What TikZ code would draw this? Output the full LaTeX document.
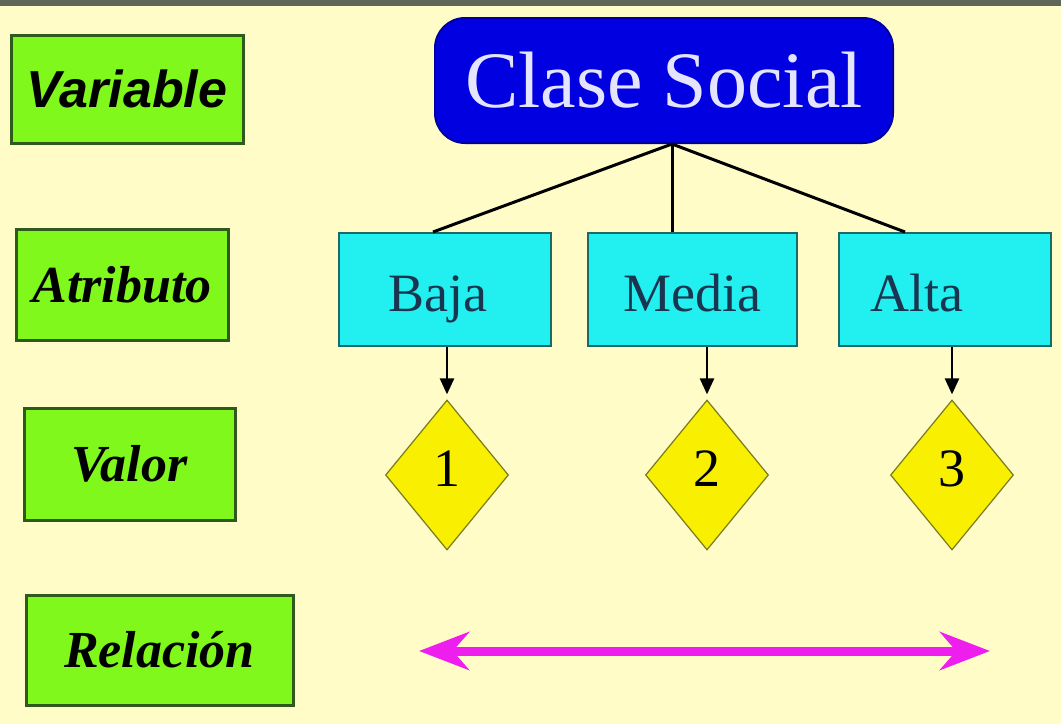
\documentclass[tikz,border=0pt]{standalone}
\usepackage{fontspec}
\setmainfont{Liberation Serif}
\newfontfamily\arialfont{Liberation Sans}
\usetikzlibrary{shapes.geometric,arrows.meta}

\definecolor{fondo}{HTML}{FFFCC8}
\definecolor{franja}{HTML}{5E6656}
\definecolor{verdeC}{HTML}{80F81C}
\definecolor{verdeB}{HTML}{2E5A1E}
\definecolor{azulC}{HTML}{0000E0}
\definecolor{azulB}{HTML}{0000A0}
\definecolor{azulT}{HTML}{E4E4FF}
\definecolor{cianC}{HTML}{22F0F0}
\definecolor{cianB}{HTML}{1A6A6A}
\definecolor{cianT}{HTML}{1A3550}
\definecolor{amarC}{HTML}{F8F000}
\definecolor{amarB}{HTML}{7A7A20}
\definecolor{magen}{HTML}{EE1EEE}

\tikzset{
  etiq/.style={draw=verdeB, fill=verdeC, line width=3pt, inner sep=0pt,
    text=black, font=\fontsize{52}{60}\selectfont\bfseries\itshape},
  clase/.style={draw=azulB, fill=azulC, line width=2pt, rounded corners=30pt,
    text=azulT, minimum width=458pt, minimum height=125pt,
    font=\fontsize{80}{90}\selectfont},
  atrib/.style={draw=cianB, fill=cianC, line width=2pt, text=cianT,
    minimum height=113pt, text height=50pt, text depth=7pt,
    font=\fontsize{54}{60}\selectfont},
  valor/.style={diamond, draw=amarB, fill=amarC, line width=1.2pt, inner sep=0pt,
    minimum width=123pt, minimum height=150pt, text=black,
    font=\fontsize{54}{60}\selectfont},
  rama/.style={line width=3pt},
  baja/.style={line width=2.5pt, -{Triangle[length=16pt,width=14pt]}, shorten >=5pt},
  relac/.style={magen, line width=9pt, {Stealth[length=50pt,width=38pt]}-{Stealth[length=50pt,width=38pt]}}
}

\begin{document}
\begin{tikzpicture}[x=1pt,y=-1pt]
  \fill[fondo] (0,0) rectangle (1061,724);
  \fill[franja] (0,0) rectangle (1061,6);

  % columna izquierda
  \node (var) at (127,89)    [etiq, minimum width=232pt, minimum height=108pt] {\arialfont Variable};
  \node (atr) at (122,285)   [etiq, minimum width=212pt, minimum height=111pt] {Atributo};
  \node (val) at (129.5,464) [etiq, minimum width=211pt, minimum height=112pt] {Valor};
  \node (rel) at (159.5,650) [etiq, minimum width=267pt, minimum height=110pt] {Relación};

  % arbol
  \node (cs) at (664,80.5) [clase] {Clase Social};
  \node (baja)  at (445,289.5)   [atrib, minimum width=212pt] {Baja\hspace*{14pt}};
  \node (media) at (692.5,289.5) [atrib, minimum width=209pt] {Media};
  \node (alta)  at (945,289.5)   [atrib, minimum width=212pt] {Alta\hspace*{56pt}};

  \coordinate (raiz) at ([xshift=8pt]cs.south);
  \draw[rama] (raiz) -- ([xshift=-12pt]baja.north);
  \draw[rama] (raiz) -- (raiz |- media.north);
  \draw[rama] (raiz) -- ([xshift=-40pt]alta.north);

  \foreach \n/\x/\a in {1/447/baja, 2/707/media, 3/952/alta} {
    \node (d\n) at (\x,475) [valor] {\raisebox{12pt}{\n}};
    \draw[baja] (d\n |- \a.south) -- (d\n.north);
  }

  % relacion
  \coordinate (izq) at (419,651);
  \coordinate (der) at (990,651);
  \draw[relac] (izq) -- (der);
\end{tikzpicture}
\end{document}
